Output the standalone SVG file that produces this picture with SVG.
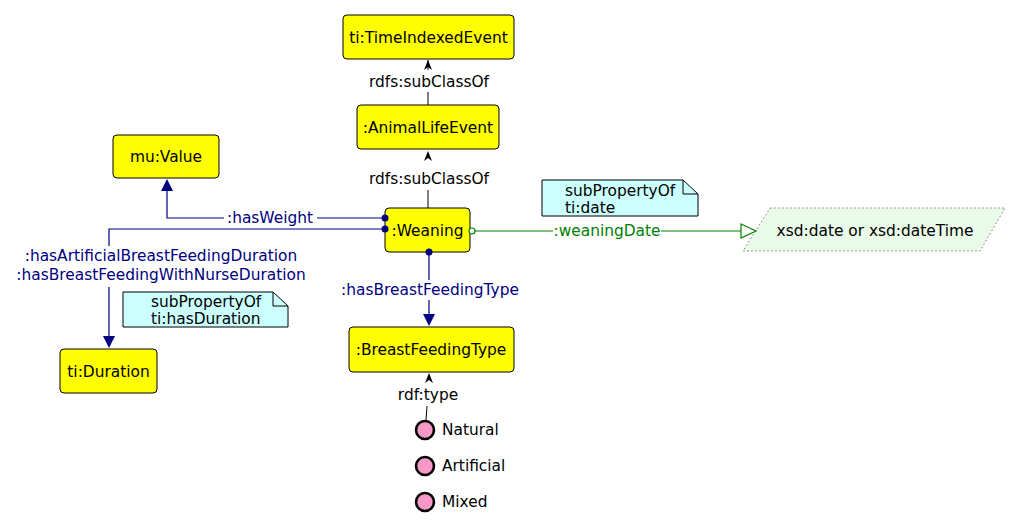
<svg xmlns="http://www.w3.org/2000/svg" width="1021" height="529" viewBox="0 0 1021 529">
<style>
text{font-family:"DejaVu Sans","Liberation Sans",sans-serif;font-size:15.4px}
.cls{fill:#ffff00;stroke:#000;stroke-width:1}
.c{text-anchor:middle;fill:#000}
.nv{fill:#000080}
.gr{fill:#008000}
.note{fill:#ccffff;stroke:#000;stroke-width:1}
.ind{fill:#f799c8;stroke:#000;stroke-width:2.6}
.ln{fill:none;stroke:#000;stroke-width:1}
.lnv{fill:none;stroke:#000080;stroke-width:1.2}
.lgr{fill:none;stroke:#008000;stroke-width:1.2}
</style>
<defs>
<path id="sub" d="M0,0 L-4,10 L0,7 L4,10 Z" fill="#000"/>
</defs>
<g id="TimeIndexedEvent">
<rect class="cls" x="343" y="15" width="171" height="44" rx="4"/>
<text class="c" x="428.5" y="43">ti:TimeIndexedEvent</text>
</g>
<g id="AnimalLifeEvent">
<rect class="cls" x="357" y="105" width="142" height="44" rx="4"/>
<text class="c" x="428" y="133">:AnimalLifeEvent</text>
</g>
<g id="Value">
<rect class="cls" x="113" y="135" width="106" height="43" rx="4"/>
<text class="c" x="166" y="162">mu:Value</text>
</g>
<g id="Weaning">
<rect class="cls" x="385" y="208" width="85" height="44" rx="4"/>
<text class="c" x="427.5" y="236">:Weaning</text>
</g>
<g id="BreastFeedingType">
<rect class="cls" x="349" y="327" width="165" height="45" rx="4"/>
<text class="c" x="431" y="355">:BreastFeedingType</text>
</g>
<g id="Duration">
<rect class="cls" x="60" y="349" width="97" height="44" rx="4"/>
<text class="c" x="108.5" y="377">ti:Duration</text>
</g>
<g id="DateType">
<polygon points="770,208 1005,208 980,251 743,251" fill="#eafbea" stroke="#777" stroke-width="1" stroke-dasharray="1.5,2.5"/>
<text class="c" x="875" y="236">xsd:date or xsd:dateTime</text>
</g>
<g id="NoteDate">
<path class="note" d="M542,180 H683 L698,194 V216 H542 Z"/>
<path class="ln" d="M683,180 V194 H698"/>
<text x="565" y="196">subPropertyOf</text>
<text x="565" y="213">ti:date</text>
</g>
<g id="NoteDuration">
<path class="note" d="M123,292 H273 L288,306 V327 H123 Z"/>
<path class="ln" d="M273,292 V306 H288"/>
<text x="151" y="307">subPropertyOf</text>
<text x="151" y="324">ti:hasDuration</text>
</g>
<g id="Natural">
<circle class="ind" cx="425" cy="430" r="9"/>
<text x="442" y="435">Natural</text>
</g>
<g id="Artificial">
<circle class="ind" cx="425" cy="466" r="9"/>
<text x="442" y="471">Artificial</text>
</g>
<g id="Mixed">
<circle class="ind" cx="425" cy="502" r="9"/>
<text x="442" y="507">Mixed</text>
</g>
<g id="connectors">
<line class="ln" x1="428" y1="70" x2="428" y2="60"/>
<use href="#sub" x="428" y="60"/>
<text class="c" x="429" y="87">rdfs:subClassOf</text>
<line class="ln" x1="428" y1="92" x2="428" y2="105"/>
<use href="#sub" x="428" y="151"/>
<text class="c" x="429" y="184">rdfs:subClassOf</text>
<line class="ln" x1="428" y1="190" x2="428" y2="208"/>
<path class="lnv" d="M385,218 H317 M224,218 H167 V190"/>
<path d="M167,179 L161,191 L173,191 Z" fill="#000080"/>
<text class="c nv" x="270" y="223">:hasWeight</text>
<circle cx="385" cy="218" r="3.5" fill="#000080"/>
<path class="lnv" d="M385,229 H109 V246 M109,287 V337"/>
<path d="M109,348 L103,336 L115,336 Z" fill="#000080"/>
<circle cx="385" cy="229" r="3.5" fill="#000080"/>
<text class="c nv" x="161" y="261">:hasArtificialBreastFeedingDuration</text>
<text class="c nv" x="161" y="280">:hasBreastFeedingWithNurseDuration</text>
<path class="lnv" d="M429,252 V280 M429,300 V315"/>
<path d="M429,326 L423,314 L435,314 Z" fill="#000080"/>
<circle cx="429" cy="252" r="3.5" fill="#000080"/>
<text class="c nv" x="430" y="295">:hasBreastFeedingType</text>
<path class="lgr" d="M475,231 H553 M661,231 H741"/>
<circle cx="472" cy="231" r="3" fill="#fff" stroke="#008000" stroke-width="1.2"/>
<text class="c gr" x="607" y="236">:weaningDate</text>
<path d="M741,224 L756,231 L741,238 Z" fill="#fff" stroke="#008000" stroke-width="1.2"/>
<use href="#sub" x="429" y="373"/>
<text class="c" x="428" y="400">rdf:type</text>
<line class="ln" x1="427" y1="406" x2="426" y2="421"/>
</g>
</svg>
